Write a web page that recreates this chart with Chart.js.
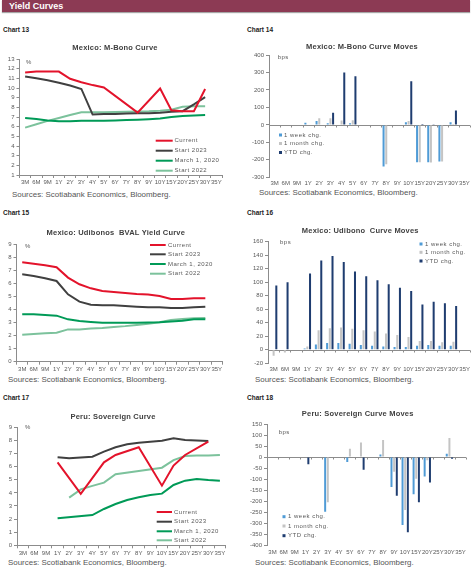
<!DOCTYPE html>
<html><head><meta charset="utf-8">
<script src="https://cdn.jsdelivr.net/npm/chart.js@4.4.1/dist/chart.umd.min.js"></script>
<style>
body{margin:0;width:474px;height:571px;background:#fff;position:relative;overflow:hidden;font-family:"Liberation Sans",Arial,sans-serif;}
.hdr{position:absolute;left:2px;top:0;width:468px;height:12px;background:#8c3a54;color:#fff;font-weight:bold;font-size:9px;line-height:12px;padding-left:7px;box-sizing:border-box;box-shadow:0 1px 1px rgba(0,0,0,0.35);}
.lbl{position:absolute;font-weight:bold;font-size:6.5px;color:#222;line-height:1;transform:translateY(-50%);white-space:nowrap;}
.src{position:absolute;font-size:6.5px;color:#555;line-height:1;transform-origin:0 50%;transform:translateY(-50%) scaleX(1.22);white-space:nowrap;}
canvas{position:absolute;}
</style></head><body>
<div class="hdr">Yield Curves</div>
<div class="lbl" style="left:3px;top:30px">Chart 13</div>
<div class="lbl" style="left:247px;top:30px">Chart 14</div>
<div class="lbl" style="left:3px;top:213px">Chart 15</div>
<div class="lbl" style="left:247px;top:213px">Chart 16</div>
<div class="lbl" style="left:3px;top:398px">Chart 17</div>
<div class="lbl" style="left:247px;top:398px">Chart 18</div>
<div class="src" style="left:12px;top:194.5px">Sources: Scotiabank Economics, Bloomberg.</div>
<div class="src" style="left:258.5px;top:193px">Sources: Scotiabank Economics, Bloomberg.</div>
<div class="src" style="left:8px;top:380px">Sources: Scotiabank Economics, Bloomberg.</div>
<div class="src" style="left:255px;top:380px">Sources: Scotiabank Economics, Bloomberg.</div>
<div class="src" style="left:8px;top:563.3px">Sources: Scotiabank Economics, Bloomberg.</div>
<div class="src" style="left:255px;top:563.3px">Sources: Scotiabank Economics, Bloomberg.</div>
<canvas id="c13"></canvas><canvas id="c14"></canvas>
<canvas id="c15"></canvas><canvas id="c16"></canvas>
<canvas id="c17"></canvas><canvas id="c18"></canvas>
<script>
// ---------- DATA ----------
const categories = ['3M','6M','9M','1Y','2Y','3Y','4Y','5Y','6Y','7Y','8Y','9Y','10Y','15Y','20Y','25Y','30Y','35Y'];
const lineSeriesNames = ['Current','Start 2023','March 1, 2020','Start 2022'];
const barSeriesNames = ['1 week chg.','1 month chg.','YTD chg.'];

// Chart 13: Mexico M-Bono Curve (%)
const mbonoCurrent = [11.6,11.7,11.7,11.7,10.95,10.6,10.3,10.05,null,null,7.45,null,9.95,7.7,7.6,7.6,9.9,null];
const mbonoStart2023 = [11.2,11.0,10.8,10.55,10.25,9.9,7.25,7.3,7.3,7.35,7.4,7.4,7.45,7.55,7.6,8.3,9.05,null];
const mbonoMar2020 = [6.9,6.8,6.65,6.55,6.55,6.6,6.6,6.62,6.65,6.68,6.72,6.78,6.85,7.0,7.1,7.15,7.2,null];
const mbonoStart2022 = [5.9,6.25,6.6,6.9,7.2,7.5,7.5,7.5,7.52,7.55,7.58,7.6,7.65,7.75,8.05,8.1,8.1,null];

// Chart 14: Mexico M-Bono Curve Moves (bps)
const mbono1w = [null,null,null,12,22,10,2,10,null,null,-238,null,15,-214,-214,-210,15,null];
const mbono1m = [null,null,null,null,38,38,25,27,null,null,-225,null,22,-214,-216,-210,5,null];
const mbonoYtd = [null,null,null,null,null,70,300,278,null,null,null,null,250,5,3,null,82,null];

// Chart 15: Mexico Udibonos BVAL Yield Curve (%)
const udiCurrent = [7.6,7.49,7.37,7.22,6.43,5.92,5.61,5.41,5.33,5.26,5.18,5.13,5.03,4.8,4.8,4.85,4.85,null];
const udiStart2023 = [6.68,6.56,6.38,6.17,5.15,4.59,4.36,4.31,4.31,4.26,4.21,4.16,4.16,4.11,4.11,4.16,4.21,null];
const udiMar2020 = [3.62,3.62,3.57,3.52,3.24,3.11,3.04,2.98,2.98,2.98,2.98,2.99,3.01,3.08,3.14,3.24,3.24,null];
const udiStart2022 = [2.07,2.12,2.17,2.22,2.47,2.47,2.53,2.58,2.65,2.72,2.81,2.9,3.01,3.19,3.27,3.32,3.35,null];

// Chart 16: Mexico Udibono Curve Moves (bps)
const udi1w = [0,0,null,2,8,10,10,9,7,6,5,4,4,6,7,6,6,null];
const udi1m = [-9,-4,null,5,29,32,33,31,29,27,24,22,19,13,13,11,12,null];
const udiYtd = [95,100,null,113,132,139,130,116,109,103,97,92,87,67,71,69,65,null];

// Chart 17: Peru Sovereign Curve (%)
const peruCurrent = [null,null,null,6.33,null,3.92,null,6.33,6.89,null,7.48,null,4.55,6.08,6.89,null,7.9,null];
const peruStart2023 = [null,null,null,6.71,6.64,null,6.76,7.14,7.48,7.7,7.83,7.9,7.98,8.16,8.03,null,7.96,null];
const peruMar2020 = [null,null,null,2.06,null,null,2.31,2.77,3.15,3.46,3.66,3.84,3.94,4.6,4.93,5.06,4.98,4.93];
const peruStart2022 = [null,null,null,null,3.64,4.27,4.53,4.78,5.42,null,5.67,null,5.92,6.5,6.81,6.84,6.84,6.89];

// Chart 18: Peru Sovereign Curve Moves (bps)
const peru1w = [null,null,null,0,null,-248,null,-22,3,null,12,-136,-308,-168,-88,null,15,null];
const peru1m = [null,null,null,null,null,-205,null,38,66,null,78,-66,-240,-98,-14,null,86,null];
const peruYtd = [null,null,null,-32,null,null,null,null,-57,null,null,-175,-341,-205,-115,null,-8,null];

// ---------- STYLE ----------
const FONT = '"Liberation Sans", Arial, sans-serif';
Chart.defaults.font.family = FONT;
Chart.defaults.font.size = 6;
Chart.defaults.color = '#595959';
const lineColors = ['#e3132b','#404040','#009a57','#7cc29c'];
const barColors = ['#4f9bd6','#c4c4c4','#1f3d70'];
const AXIS = '#8c8c8c';

const deco = {
  id: 'deco',
  beforeDatasetsDraw(chart, args, o) {
    if (!o.zero) return;
    const ctx = chart.ctx, a = chart.chartArea, y = Math.round(chart.scales.y.getPixelForValue(0)) + 0.5;
    const xs = chart.scales.x;
    ctx.save();
    ctx.strokeStyle = AXIS; ctx.lineWidth = 1;
    ctx.beginPath(); ctx.moveTo(a.left, y); ctx.lineTo(a.right, y);
    const n = xs.ticks.length, w = (a.right - a.left) / n;
    for (let i = 0; i <= n; i++) { const x = Math.round(a.left + i * w) + 0.5; ctx.moveTo(x, y); ctx.lineTo(x, y + 2); }
    ctx.stroke(); ctx.restore();
  },
  afterDraw(chart, args, o) {
    const ctx = chart.ctx;
    ctx.save();
    ctx.font = 'bold 7.5px ' + FONT; ctx.fillStyle = '#404040';
    if ('letterSpacing' in ctx) ctx.letterSpacing = '0.2px';
    ctx.textAlign = 'center'; ctx.textBaseline = 'middle';
    ctx.fillText(o.title[2], o.title[0] - o.ox, o.title[1] - o.oy);
    ctx.font = '6px ' + FONT; ctx.fillStyle = '#595959'; ctx.textAlign = 'left';
    if ('letterSpacing' in ctx) ctx.letterSpacing = '0.5px';
    ctx.fillText(o.unit[2], o.unit[0] - o.ox, o.unit[1] - o.oy);
    const L = o.legend;
    chart.data.datasets.forEach((ds, i) => {
      const y = L.rows[i] - o.oy;
      if (L.type === 'line') {
        ctx.strokeStyle = ds.borderColor; ctx.lineWidth = 2;
        ctx.beginPath(); ctx.moveTo(L.x1 - o.ox, y); ctx.lineTo(L.x2 - o.ox, y); ctx.stroke();
      } else {
        ctx.fillStyle = ds.backgroundColor; ctx.fillRect(L.x1 - o.ox - 1.5, y - 1.5, 3, 3);
      }
      ctx.fillStyle = '#595959';
      ctx.fillText(ds.label, L.tx - o.ox, y);
    });
    ctx.restore();
  }
};

function make(id, kind, series, L) {
  const cv = document.getElementById(id);
  cv.style.left = L.left + 'px'; cv.style.top = L.top + 'px';
  cv.width = L.width; cv.height = L.height;
  const yW = L.area.l - L.left, xH = L.top + L.height - L.area.b;
  const isLine = kind === 'line';
  const datasets = series.map((d, i) => isLine ? {
      label: lineSeriesNames[i], data: d, borderColor: lineColors[i], backgroundColor: lineColors[i],
      borderWidth: 2, pointRadius: 0, tension: 0, spanGaps: true
    } : {
      label: barSeriesNames[i], data: d, backgroundColor: barColors[i], borderWidth: 0,
      barPercentage: 0.75, categoryPercentage: 0.72
    });
  new Chart(cv, {
    type: kind,
    data: { labels: categories, datasets },
    options: {
      responsive: false, animation: false, devicePixelRatio: 1,
      layout: { padding: { top: L.area.t - L.top, right: L.left + L.width - L.area.r, left: 0, bottom: 0 } },
      plugins: { legend: { display: false }, tooltip: { enabled: false }, title: { display: false },
        deco: Object.assign({ ox: L.left, oy: L.top, zero: !isLine }, L.deco) },
      scales: {
        x: {
          offset: true,
          grid: { display: isLine, offset: true, drawOnChartArea: false, drawTicks: isLine, tickLength: 3, color: AXIS },
          border: { display: isLine, color: AXIS },
          ticks: { autoSkip: false, maxRotation: 0, padding: isLine ? 1 : L.xpad, font: { size: 6 } },
          afterFit: s => { s.height = xH; s.paddingLeft = 0; s.paddingRight = 0; }
        },
        y: {
          min: L.y[0], max: L.y[1],
          ticks: { stepSize: L.y[2], autoSkip: false, padding: 2, font: { size: 6 } },
          grid: { drawOnChartArea: false, drawTicks: true, tickLength: 3, color: AXIS },
          border: { color: AXIS },
          afterFit: s => { s.width = yW; s.paddingTop = 0; s.paddingBottom = 0; }
        }
      }
    },
    plugins: [deco]
  });
}

make('c13', 'line', [mbonoCurrent, mbonoStart2023, mbonoMar2020, mbonoStart2022], {
  left: 0, top: 40, width: 237, height: 150, area: { l: 19.5, t: 59, r: 222, b: 175 }, y: [1, 13, 1],
  deco: { title: [115, 47.7, 'Mexico: M-Bono Curve'], unit: [26, 62, '%'],
    legend: { type: 'line', x1: 155.7, x2: 172.7, tx: 174.5, rows: [140.7, 150.7, 160.7, 170.7] } }
});
make('c14', 'bar', [mbono1w, mbono1m, mbonoYtd], {
  left: 237, top: 40, width: 237, height: 150, area: { l: 269, t: 55, r: 470, b: 177.3 }, y: [-300, 400, 100], xpad: 2,
  deco: { title: [362, 47, 'Mexico: M-Bono Curve Moves'], unit: [277.7, 57, 'bps'],
    legend: { type: 'box', x1: 280.5, tx: 284, rows: [135, 143.5, 152.5] } }
});
make('c15', 'line', [udiCurrent, udiStart2023, udiMar2020, udiStart2022], {
  left: 0, top: 225, width: 237, height: 150, area: { l: 16.5, t: 244, r: 222.5, b: 361.7 }, y: [0, 9, 1],
  deco: { title: [115.8, 233.3, 'Mexico: Udibonos  BVAL Yield Curve'], unit: [25, 246.7, '%'],
    legend: { type: 'line', x1: 150, x2: 165.7, tx: 168, rows: [245, 254.3, 264, 273.7] } }
});
make('c16', 'bar', [udi1w, udi1m, udiYtd], {
  left: 237, top: 222, width: 237, height: 153, area: { l: 268, t: 241.7, r: 470.3, b: 363.3 }, y: [-20, 160, 20], xpad: 2,
  deco: { title: [360.3, 230.7, 'Mexico: Udibono  Curve Moves'], unit: [280, 242.7, 'bps'],
    legend: { type: 'box', x1: 421, tx: 425, rows: [244, 252.3, 261] } }
});
make('c17', 'line', [peruCurrent, peruStart2023, peruMar2020, peruStart2022], {
  left: 0, top: 408, width: 237, height: 150, area: { l: 17, t: 427.3, r: 225.7, b: 545.3 }, y: [0, 9, 1],
  deco: { title: [113, 417.3, 'Peru: Sovereign Curve'], unit: [25, 427.7, '%'],
    legend: { type: 'line', x1: 156.7, x2: 172, tx: 174, rows: [512, 521.7, 531.3, 540.3] } }
});
make('c18', 'bar', [peru1w, peru1m, peruYtd], {
  left: 237, top: 405, width: 237, height: 153, area: { l: 267, t: 424, r: 466, b: 545.3 }, y: [-400, 150, 50], xpad: 3,
  deco: { title: [357.7, 414, 'Peru: Sovereign Curve Moves'], unit: [278.7, 432.7, 'bps'],
    legend: { type: 'box', x1: 284, tx: 288, rows: [516.7, 526, 535.7] } }
});
</script>
</body></html>
